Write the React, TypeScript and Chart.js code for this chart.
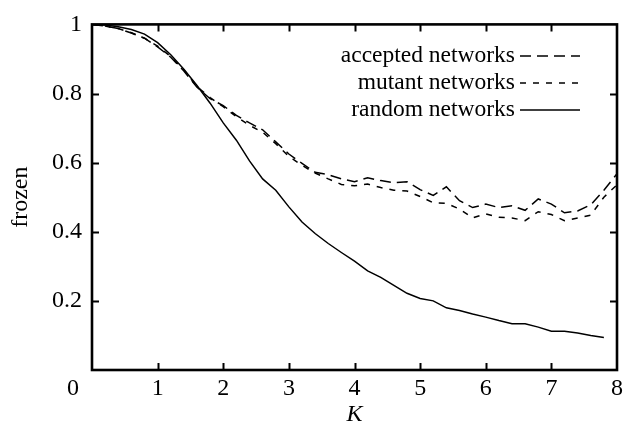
import React, { useEffect, useRef } from "react";
import { Chart, registerables } from "chart.js";

Chart.register(...registerables);

const kValues = [
  0, 0.2, 0.4, 0.6, 0.8, 1.0, 1.2, 1.4, 1.6, 1.8,
  2.0, 2.2, 2.4, 2.6, 2.8, 3.0, 3.2, 3.4, 3.6, 3.8,
  4.0, 4.2, 4.4, 4.6, 4.8, 5.0, 5.2, 5.4, 5.6, 5.8,
  6.0, 6.2, 6.4, 6.6, 6.8, 7.0, 7.2, 7.4, 7.6, 7.8, 8.0,
];

const acceptedNetworks = [
  1.0, 0.995, 0.988, 0.975, 0.96, 0.935, 0.905, 0.865, 0.818, 0.785,
  0.765, 0.737, 0.715, 0.695, 0.66, 0.625, 0.598, 0.572, 0.565, 0.553,
  0.545, 0.556, 0.548, 0.542, 0.545, 0.522, 0.505, 0.53, 0.49, 0.47,
  0.48, 0.47, 0.475, 0.462, 0.495, 0.48, 0.455, 0.46, 0.478, 0.52, 0.568,
];

const mutantNetworks = [
  1.0, 0.995, 0.988, 0.976, 0.96, 0.937, 0.907, 0.868, 0.82, 0.788,
  0.762, 0.733, 0.708, 0.688, 0.655, 0.618, 0.592, 0.57, 0.553, 0.537,
  0.533, 0.538, 0.528, 0.52, 0.518, 0.502, 0.484, 0.482, 0.466, 0.44,
  0.452, 0.442, 0.44, 0.432, 0.458, 0.45, 0.432, 0.44, 0.448, 0.5, 0.536,
];

const randomNetworks = [
  1.0, 0.998, 0.993, 0.985, 0.972, 0.947, 0.912, 0.87, 0.823, 0.772,
  0.715, 0.665, 0.605, 0.553, 0.52, 0.472, 0.428, 0.395, 0.366, 0.34,
  0.315, 0.287, 0.268, 0.245, 0.222, 0.207, 0.2, 0.18, 0.172, 0.162,
  0.153, 0.143, 0.134, 0.134, 0.124, 0.112, 0.112, 0.107, 0.1, 0.094, null,
];

const seriesLabels = ["accepted networks", "mutant networks", "random networks"];
const seriesDashes = [[11, 6], [6, 7], []];
const xTickValues = [1, 2, 3, 4, 5, 6, 7];
const yTickValues = [0.2, 0.4, 0.6, 0.8];
const xTitle = "K";
const yTitle = "frozen";

const FONT = '"Liberation Serif", "DejaVu Serif", serif';
const FS = 24;
const LEGEND_FS = 23.5;
const XPAD = 4;

const framePlugin = {
  id: "frame",
  afterDatasetsDraw(chart: any) {
    const { ctx, chartArea: a, scales } = chart;
    const xs = scales.x;
    const ys = scales.y;
    ctx.save();
    ctx.strokeStyle = "#000";
    ctx.lineWidth = 2.6;
    ctx.setLineDash([]);
    ctx.strokeRect(a.left, a.top, a.right - a.left, a.bottom - a.top);
    ctx.lineWidth = 2;
    const tl = 7;
    for (const v of xTickValues) {
      const px = Math.round(xs.getPixelForValue(v)) + 0.5;
      ctx.beginPath();
      ctx.moveTo(px, a.bottom);
      ctx.lineTo(px, a.bottom - tl);
      ctx.moveTo(px, a.top);
      ctx.lineTo(px, a.top + tl);
      ctx.stroke();
    }
    for (const v of yTickValues) {
      const py = Math.round(ys.getPixelForValue(v)) + 0.5;
      ctx.beginPath();
      ctx.moveTo(a.left, py);
      ctx.lineTo(a.left + tl, py);
      ctx.moveTo(a.right, py);
      ctx.lineTo(a.right - tl, py);
      ctx.stroke();
    }
    // origin label, aligned with the other x tick labels
    ctx.fillStyle = "#000";
    ctx.font = `${FS}px ${FONT}`;
    ctx.textAlign = "center";
    ctx.textBaseline = "middle";
    ctx.fillText("0", a.left - 19, xs.top + XPAD + (FS * 1.2) / 2);
    // legend
    ctx.font = `${LEGEND_FS}px ${FONT}`;
    const rowY = [a.top + 31, a.top + 58, a.top + 85];
    const textRight = a.right - 102;
    const lineStart = a.right - 97;
    const lineEnd = a.right - 37;
    ctx.textAlign = "right";
    seriesLabels.forEach((lab, i) => {
      ctx.fillText(lab, textRight, rowY[i]);
      ctx.beginPath();
      ctx.lineWidth = 1.5;
      ctx.setLineDash(seriesDashes[i]);
      ctx.moveTo(lineStart, rowY[i] + 0.5);
      ctx.lineTo(lineEnd, rowY[i] + 0.5);
      ctx.stroke();
    });
    ctx.restore();
  },
};

export default function App() {
  const ref = useRef<HTMLCanvasElement | null>(null);
  useEffect(() => {
    if (!ref.current) return;
    const series = [acceptedNetworks, mutantNetworks, randomNetworks];
    const chart = new Chart(ref.current, {
      type: "line",
      data: {
        datasets: series.map((vals, i) => ({
          label: seriesLabels[i],
          data: kValues.map((k, j) => ({ x: k, y: vals[j] })),
          borderColor: "#000",
          borderWidth: 1.5,
          borderDash: seriesDashes[i],
          pointRadius: 0,
          fill: false,
          tension: 0,
        })),
      },
      options: {
        responsive: false,
        animation: false,
        layout: { padding: { top: 22, right: 16, left: 0, bottom: 0 } },
        plugins: { legend: { display: false }, tooltip: { enabled: false } },
        scales: {
          x: {
            type: "linear",
            min: 0,
            max: 8,
            grid: { display: false, drawTicks: false, tickLength: 0 },
            border: { display: false },
            afterFit: (s: any) => {
              s.height = 64;
            },
            ticks: {
              stepSize: 1,
              padding: XPAD,
              color: "#000",
              font: { family: FONT, size: FS },
              maxRotation: 0,
              callback: (v: any) => (v === 0 ? "" : String(v)),
            },
            title: {
              display: true,
              text: xTitle,
              color: "#000",
              font: { family: FONT, size: FS, style: "italic" },
              padding: { top: 0, bottom: 5 },
            },
          },
          y: {
            type: "linear",
            min: 0,
            max: 1,
            grid: { display: false, drawTicks: false, tickLength: 0 },
            border: { display: false },
            afterFit: (s: any) => {
              s.width = 92;
            },
            ticks: {
              stepSize: 0.2,
              padding: 10,
              color: "#000",
              font: { family: FONT, size: FS },
              callback: (v: any) => {
                const r = Math.round(Number(v) * 10) / 10;
                return r === 0 ? "" : String(r);
              },
            },
            title: {
              display: true,
              text: yTitle,
              color: "#000",
              font: { family: FONT, size: FS },
              padding: { top: 6, bottom: 0 },
            },
          },
        },
      },
      plugins: [framePlugin],
    });
    return () => chart.destroy();
  }, []);
  return (
    <div style={{ position: "fixed", left: 0, top: 0, width: 633, height: 434, background: "#fff" }}>
      <canvas ref={ref} width={633} height={434} style={{ display: "block" }} />
    </div>
  );
}
